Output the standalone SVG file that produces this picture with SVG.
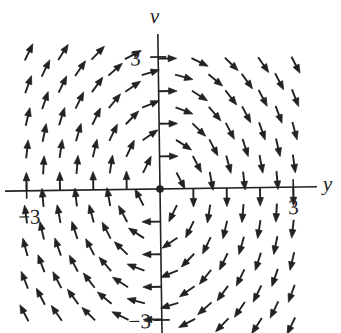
<svg xmlns="http://www.w3.org/2000/svg" width="341" height="333" viewBox="0 0 341 333">
<style>
.ax{stroke:#222;stroke-width:1.6;fill:none}
.lbl{font-family:"Liberation Serif","Times New Roman",serif;font-size:21px;fill:#222}
.it{font-style:italic}
</style>
<defs>
<g id="a"><line x1="0" y1="0" x2="11.5" y2="0" stroke="#222" stroke-width="1.9"/><path d="M18.5 0 L10 -3.3 L10 3.3 Z" fill="#222" stroke="#222" stroke-width="0.7" stroke-linejoin="round"/></g>
</defs>
<rect width="341" height="333" fill="#fff"/>
<g transform="rotate(-0.8 160 189)">
<g id="axes">
<line class="ax" x1="5" y1="189" x2="317" y2="189"/>
<line class="ax" x1="160" y1="34" x2="160" y2="335"/>
<line class="ax" x1="26.6" y1="181" x2="26.6" y2="197"/>
<line class="ax" x1="293.3" y1="181" x2="293.3" y2="197"/>
<line class="ax" x1="152" y1="57" x2="168" y2="57"/>
<line class="ax" x1="152" y1="320" x2="168" y2="320"/>
<circle cx="160" cy="189" r="3.8" fill="#222"/>
</g>
<g id="field">
<use href="#a" transform="translate(26.6 58.6) rotate(-63.4)"/>
<use href="#a" transform="translate(60 58.6) rotate(-56.3)"/>
<use href="#a" transform="translate(93.3 58.6) rotate(-45)"/>
<use href="#a" transform="translate(126.7 58.6) rotate(-26.6)"/>
<use href="#a" transform="translate(160 58.6) rotate(0)"/>
<use href="#a" transform="translate(193.3 58.6) rotate(26.6)"/>
<use href="#a" transform="translate(226.7 58.6) rotate(45)"/>
<use href="#a" transform="translate(260 58.6) rotate(56.3)"/>
<use href="#a" transform="translate(293.3 58.6) rotate(63.4)"/>

<use href="#a" transform="translate(43.3 74.9) rotate(-63.4)"/>
<use href="#a" transform="translate(76.7 74.9) rotate(-55)"/>
<use href="#a" transform="translate(110 74.9) rotate(-40.6)"/>
<use href="#a" transform="translate(143.3 74.9) rotate(-16)"/>
<use href="#a" transform="translate(176.7 74.9) rotate(16)"/>
<use href="#a" transform="translate(210 74.9) rotate(40.6)"/>
<use href="#a" transform="translate(243.3 74.9) rotate(55)"/>
<use href="#a" transform="translate(276.7 74.9) rotate(63.4)"/>

<use href="#a" transform="translate(26.6 91.2) rotate(-69.4)"/>
<use href="#a" transform="translate(60 91.2) rotate(-63.4)"/>
<use href="#a" transform="translate(93.3 91.2) rotate(-53.1)"/>
<use href="#a" transform="translate(126.7 91.2) rotate(-33.7)"/>
<use href="#a" transform="translate(160 91.2) rotate(0)"/>
<use href="#a" transform="translate(193.3 91.2) rotate(33.7)"/>
<use href="#a" transform="translate(226.7 91.2) rotate(53.1)"/>
<use href="#a" transform="translate(260 91.2) rotate(63.4)"/>
<use href="#a" transform="translate(293.3 91.2) rotate(69.4)"/>

<use href="#a" transform="translate(43.3 107.5) rotate(-70.4)"/>
<use href="#a" transform="translate(76.7 107.5) rotate(-63.4)"/>
<use href="#a" transform="translate(110 107.5) rotate(-50.2)"/>
<use href="#a" transform="translate(143.3 107.5) rotate(-21.8)"/>
<use href="#a" transform="translate(176.7 107.5) rotate(21.8)"/>
<use href="#a" transform="translate(210 107.5) rotate(50.2)"/>
<use href="#a" transform="translate(243.3 107.5) rotate(63.4)"/>
<use href="#a" transform="translate(276.7 107.5) rotate(70.4)"/>

<use href="#a" transform="translate(26.6 123.8) rotate(-76)"/>
<use href="#a" transform="translate(60 123.8) rotate(-71.6)"/>
<use href="#a" transform="translate(93.3 123.8) rotate(-63.4)"/>
<use href="#a" transform="translate(126.7 123.8) rotate(-45)"/>
<use href="#a" transform="translate(160 123.8) rotate(0)"/>
<use href="#a" transform="translate(193.3 123.8) rotate(45)"/>
<use href="#a" transform="translate(226.7 123.8) rotate(63.4)"/>
<use href="#a" transform="translate(260 123.8) rotate(71.6)"/>
<use href="#a" transform="translate(293.3 123.8) rotate(76)"/>

<use href="#a" transform="translate(43.3 140.1) rotate(-77.9)"/>
<use href="#a" transform="translate(76.7 140.1) rotate(-73.3)"/>
<use href="#a" transform="translate(110 140.1) rotate(-63.4)"/>
<use href="#a" transform="translate(143.3 140.1) rotate(-33.7)"/>
<use href="#a" transform="translate(176.7 140.1) rotate(33.7)"/>
<use href="#a" transform="translate(210 140.1) rotate(63.4)"/>
<use href="#a" transform="translate(243.3 140.1) rotate(73.3)"/>
<use href="#a" transform="translate(276.7 140.1) rotate(77.9)"/>

<use href="#a" transform="translate(26.6 156.4) rotate(-82.9)"/>
<use href="#a" transform="translate(60 156.4) rotate(-80.5)"/>
<use href="#a" transform="translate(93.3 156.4) rotate(-76)"/>
<use href="#a" transform="translate(126.7 156.4) rotate(-63.4)"/>
<use href="#a" transform="translate(160 156.4) rotate(0)"/>
<use href="#a" transform="translate(193.3 156.4) rotate(63.4)"/>
<use href="#a" transform="translate(226.7 156.4) rotate(76)"/>
<use href="#a" transform="translate(260 156.4) rotate(80.5)"/>
<use href="#a" transform="translate(293.3 156.4) rotate(82.9)"/>

<use href="#a" transform="translate(43.3 172.7) rotate(-85.9)"/>
<use href="#a" transform="translate(76.7 172.7) rotate(-84.3)"/>
<use href="#a" transform="translate(110 172.7) rotate(-80.5)"/>
<use href="#a" transform="translate(143.3 172.7) rotate(-63.4)"/>
<use href="#a" transform="translate(176.7 172.7) rotate(63.4)"/>
<use href="#a" transform="translate(210 172.7) rotate(80.5)"/>
<use href="#a" transform="translate(243.3 172.7) rotate(84.3)"/>
<use href="#a" transform="translate(276.7 172.7) rotate(85.9)"/>

<use href="#a" transform="translate(26.6 189) rotate(-90)"/>
<use href="#a" transform="translate(60 189) rotate(-90)"/>
<use href="#a" transform="translate(93.3 189) rotate(-90)"/>
<use href="#a" transform="translate(126.7 189) rotate(-90)"/>
<use href="#a" transform="translate(193.3 189) rotate(90)"/>
<use href="#a" transform="translate(226.7 189) rotate(90)"/>
<use href="#a" transform="translate(260 189) rotate(90)"/>
<use href="#a" transform="translate(293.3 189) rotate(90)"/>

<use href="#a" transform="translate(43.3 205.3) rotate(-94.1)"/>
<use href="#a" transform="translate(76.7 205.3) rotate(-95.7)"/>
<use href="#a" transform="translate(110 205.3) rotate(-99.5)"/>
<use href="#a" transform="translate(143.3 205.3) rotate(-116.6)"/>
<use href="#a" transform="translate(176.7 205.3) rotate(116.6)"/>
<use href="#a" transform="translate(210 205.3) rotate(99.5)"/>
<use href="#a" transform="translate(243.3 205.3) rotate(95.7)"/>
<use href="#a" transform="translate(276.7 205.3) rotate(94.1)"/>

<use href="#a" transform="translate(26.6 221.6) rotate(-97.1)"/>
<use href="#a" transform="translate(60 221.6) rotate(-99.5)"/>
<use href="#a" transform="translate(93.3 221.6) rotate(-104)"/>
<use href="#a" transform="translate(126.7 221.6) rotate(-116.6)"/>
<use href="#a" transform="translate(160 221.6) rotate(180)"/>
<use href="#a" transform="translate(193.3 221.6) rotate(116.6)"/>
<use href="#a" transform="translate(226.7 221.6) rotate(104)"/>
<use href="#a" transform="translate(260 221.6) rotate(99.5)"/>
<use href="#a" transform="translate(293.3 221.6) rotate(97.1)"/>

<use href="#a" transform="translate(43.3 237.9) rotate(-102.1)"/>
<use href="#a" transform="translate(76.7 237.9) rotate(-106.7)"/>
<use href="#a" transform="translate(110 237.9) rotate(-116.6)"/>
<use href="#a" transform="translate(143.3 237.9) rotate(-146.3)"/>
<use href="#a" transform="translate(176.7 237.9) rotate(146.3)"/>
<use href="#a" transform="translate(210 237.9) rotate(116.6)"/>
<use href="#a" transform="translate(243.3 237.9) rotate(106.7)"/>
<use href="#a" transform="translate(276.7 237.9) rotate(102.1)"/>

<use href="#a" transform="translate(26.6 254.2) rotate(-104)"/>
<use href="#a" transform="translate(60 254.2) rotate(-108.4)"/>
<use href="#a" transform="translate(93.3 254.2) rotate(-116.6)"/>
<use href="#a" transform="translate(126.7 254.2) rotate(-135)"/>
<use href="#a" transform="translate(160 254.2) rotate(180)"/>
<use href="#a" transform="translate(193.3 254.2) rotate(135)"/>
<use href="#a" transform="translate(226.7 254.2) rotate(116.6)"/>
<use href="#a" transform="translate(260 254.2) rotate(108.4)"/>
<use href="#a" transform="translate(293.3 254.2) rotate(104)"/>

<use href="#a" transform="translate(43.3 270.5) rotate(-109.6)"/>
<use href="#a" transform="translate(76.7 270.5) rotate(-116.6)"/>
<use href="#a" transform="translate(110 270.5) rotate(-129.8)"/>
<use href="#a" transform="translate(143.3 270.5) rotate(-158.2)"/>
<use href="#a" transform="translate(176.7 270.5) rotate(158.2)"/>
<use href="#a" transform="translate(210 270.5) rotate(129.8)"/>
<use href="#a" transform="translate(243.3 270.5) rotate(116.6)"/>
<use href="#a" transform="translate(276.7 270.5) rotate(109.6)"/>

<use href="#a" transform="translate(26.6 286.8) rotate(-110.6)"/>
<use href="#a" transform="translate(60 286.8) rotate(-116.6)"/>
<use href="#a" transform="translate(93.3 286.8) rotate(-126.9)"/>
<use href="#a" transform="translate(126.7 286.8) rotate(-146.3)"/>
<use href="#a" transform="translate(160 286.8) rotate(180)"/>
<use href="#a" transform="translate(193.3 286.8) rotate(146.3)"/>
<use href="#a" transform="translate(226.7 286.8) rotate(126.9)"/>
<use href="#a" transform="translate(260 286.8) rotate(116.6)"/>
<use href="#a" transform="translate(293.3 286.8) rotate(110.6)"/>

<use href="#a" transform="translate(43.3 303.1) rotate(-116.6)"/>
<use href="#a" transform="translate(76.7 303.1) rotate(-125)"/>
<use href="#a" transform="translate(110 303.1) rotate(-139.4)"/>
<use href="#a" transform="translate(143.3 303.1) rotate(-164.1)"/>
<use href="#a" transform="translate(176.7 303.1) rotate(164.1)"/>
<use href="#a" transform="translate(210 303.1) rotate(139.4)"/>
<use href="#a" transform="translate(243.3 303.1) rotate(125)"/>
<use href="#a" transform="translate(276.7 303.1) rotate(116.6)"/>

<use href="#a" transform="translate(26.6 319.4) rotate(-116.6)"/>
<use href="#a" transform="translate(60 319.4) rotate(-123.7)"/>
<use href="#a" transform="translate(93.3 319.4) rotate(-135)"/>
<use href="#a" transform="translate(126.7 319.4) rotate(-153.4)"/>
<use href="#a" transform="translate(160 319.4) rotate(180)"/>
<use href="#a" transform="translate(193.3 319.4) rotate(153.4)"/>
<use href="#a" transform="translate(226.7 319.4) rotate(135)"/>
<use href="#a" transform="translate(260 319.4) rotate(123.7)"/>
<use href="#a" transform="translate(293.3 319.4) rotate(116.6)"/>
</g>
<g id="labels">
<text class="lbl it" x="157" y="23" text-anchor="middle">v</text>
<text class="lbl it" x="323" y="193">y</text>
<text class="lbl" x="132" y="65">3</text>
<text class="lbl" x="288" y="216">3</text>
<text class="lbl" x="40" y="222" text-anchor="end">−3</text>
<text class="lbl" x="149" y="328" text-anchor="end">−3</text>
</g>
</g>
</svg>
